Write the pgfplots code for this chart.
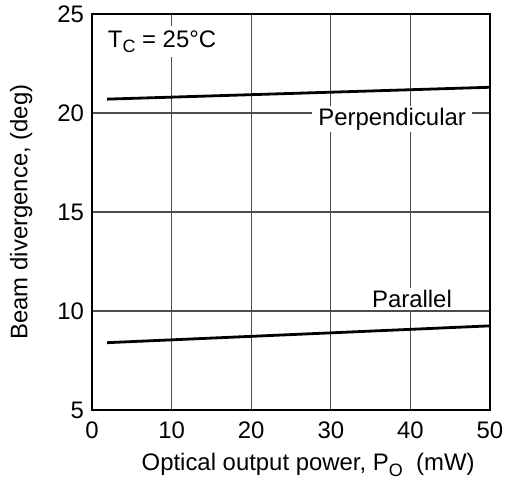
\documentclass[border=0pt]{standalone}
\usepackage{pgfplots}
\pgfplotsset{compat=1.18}
\usepackage{fontspec}
\setmainfont{Liberation Sans}
\newcommand\sub[1]{\raisebox{-0.45ex}{\fontsize{9}{10}\selectfont #1}}
\begin{document}
\begin{tikzpicture}
\path[use as bounding box] (-46bp,-37.5bp) rectangle (213bp,205bp);
\begin{axis}[
  at={(0,0)}, anchor=south west,
  scale only axis, width=199bp, height=198bp,
  xmin=0, xmax=50, ymin=5, ymax=25,
  xtick={0,10,...,50}, ytick={5,10,...,25},
  grid=major,
  major grid style={line width=0.6bp, gray!60!black},
  axis line style={line width=1bp, black},
  tick style={draw=none},
  font=\fontsize{12}{14}\selectfont,
  /pgf/number format/assume math mode=true,
  xticklabel style={font=\fontsize{12}{14}\selectfont, yshift=-2.5bp},
  yticklabel style={font=\fontsize{12}{14}\selectfont, xshift=-0.5bp},
  xlabel={Optical output power, P\sub{O}\ \ (mW)},
  ylabel={Beam divergence, (deg)},
  xlabel style={at={(axis description cs:0.543,-0.139)}, anchor=center, font=\fontsize{12}{14}\selectfont},
  ylabel style={at={(axis description cs:-0.178,0.5)}, anchor=center, font=\fontsize{12}{14}\selectfont},
]
\addplot[black, line width=1.4bp] coordinates {(1.9,20.7) (50,21.3)};
\addplot[black, line width=1.4bp] coordinates {(1.9,8.4) (50,9.25)};
\node[fill=white, inner xsep=3bp, inner ysep=1bp, font=\fontsize{12}{14}\selectfont] at (axis cs:37.7,19.7) {Perpendicular};
\node[fill=white, inner xsep=3bp, inner ysep=1bp, font=\fontsize{12}{14}\selectfont] at (axis cs:40.2,10.6) {Parallel};
\node[fill=white, anchor=west, inner xsep=1bp, inner ysep=2bp, font=\fontsize{12}{14}\selectfont] at (axis cs:1.7,23.6) {T\sub{C} = 25°C};
\end{axis}
\end{tikzpicture}
\end{document}
